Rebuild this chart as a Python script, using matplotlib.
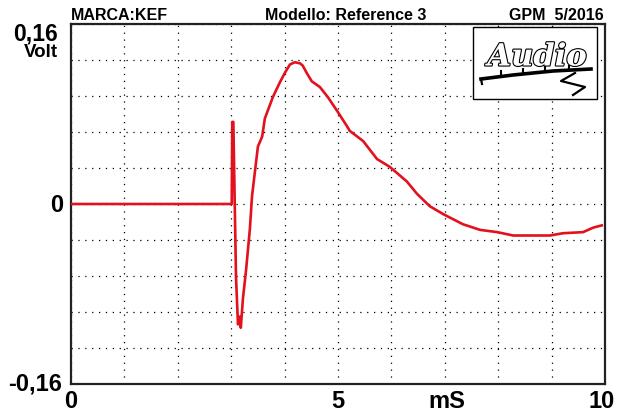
import matplotlib
matplotlib.use("Agg")
import matplotlib.pyplot as plt
from matplotlib.patches import Rectangle
import matplotlib.patheffects as pe
import numpy as np

# Impulse response of the loudspeaker (time in ms, amplitude in V)
time_ms = [0.0, 3.01, 3.02, 3.04, 3.09, 3.127, 3.165, 3.18, 3.22, 3.28, 3.35,
           3.39, 3.45, 3.50, 3.58, 3.63, 3.78, 3.91, 4.01, 4.10, 4.19, 4.29,
           4.34, 4.42, 4.51, 4.66, 4.81, 4.98, 5.17, 5.22, 5.47, 5.73, 5.97,
           6.29, 6.48, 6.72, 6.97, 7.34, 7.66, 7.98, 8.28, 8.97, 9.21, 9.59,
           9.78, 9.94]
volts = [0.0, 0.0, 0.073, 0.073, -0.065, -0.107, -0.100, -0.110, -0.084,
         -0.058, -0.022, 0.007, 0.031, 0.051, 0.060, 0.076, 0.095, 0.108,
         0.117, 0.124, 0.126, 0.125, 0.123, 0.116, 0.109, 0.104, 0.095, 0.083,
         0.069, 0.065, 0.056, 0.040, 0.033, 0.020, 0.009, -0.002, -0.009,
         -0.018, -0.023, -0.025, -0.028, -0.028, -0.026, -0.025, -0.021,
         -0.019]

x_ticks = [0, 5, 10]
x_tick_labels = ["0", "5", "10"]
y_tick_labels = ["-0,16", "0", "0,16"]

header_left = "MARCA:KEF"
header_mid = "Modello: Reference 3"
header_right = "GPM  5/2016"

FONT = ["Liberation Sans", "DejaVu Sans"]
RED = "#e3101e"

fig = plt.figure(figsize=(6.21, 4.14), dpi=100)
ax = fig.add_axes([71 / 621, 1 - 385 / 414, 534 / 621, 360 / 414])

ax.set_xlim(0, 10)
ax.set_ylim(-0.16, 0.16)

# dotted grid every 1 ms and every 0.032 V
ax.set_xticks(np.arange(0, 10.01, 1.0))
ax.set_yticks(np.linspace(-0.16, 0.16, 11))
ax.grid(True, color="black", linestyle=(0, (1, 4.5)), linewidth=0.9)
ax.tick_params(length=0, labelbottom=False, labelleft=False)
for sp in ax.spines.values():
    sp.set_linewidth(1.6)
    sp.set_color("#222222")

ax.plot(time_ms, volts, color=RED, linewidth=1.9, solid_joinstyle="round",
        zorder=3)

# axis labels drawn as texts
label_kw = dict(fontsize=17, fontweight="bold", family=FONT, clip_on=False)
x_pos = {0: 0.0, 5: 5.0, 10: 9.93}
for xv, lab in zip(x_ticks, x_tick_labels):
    ax.text(x_pos[xv], -0.1805, lab, ha="center", va="baseline", **label_kw)
ax.text(7.03, -0.1805, "mS", ha="center", va="baseline", **label_kw)

ax.text(-0.17, -0.1645, y_tick_labels[0], ha="right", va="baseline",
        **label_kw)
ax.text(-0.15, 0.0, y_tick_labels[1], ha="right", va="center", **label_kw)
ax.text(-0.245, 0.1460, y_tick_labels[2], ha="right", va="baseline",
        fontsize=16.5, fontweight="bold", family=FONT, clip_on=False)
ax.text(-0.245, 0.1318, "Volt", ha="right", va="baseline", fontsize=13.5,
        fontweight="bold", family=FONT, clip_on=False)

# header line
fig.text(71 / 621, 1 - 15 / 414, header_left, ha="left", va="center",
         fontsize=11.5, fontweight="bold", family=FONT)
fig.text(346 / 621, 1 - 15 / 414, header_mid, ha="center", va="center",
         fontsize=11.5, fontweight="bold", family=FONT)
fig.text(604 / 621, 1 - 15 / 414, header_right, ha="right", va="center",
         fontsize=11.5, fontweight="bold", family=FONT)

# magazine logo box in the upper right corner
lx0, ly0, lx1, ly1 = 473 / 621, 1 - 100 / 414, 597 / 621, 1 - 28 / 414
fig.patches.append(Rectangle((lx0, ly0), lx1 - lx0, ly1 - ly0,
                             transform=fig.transFigure, facecolor="white",
                             edgecolor="black", linewidth=1.0, zorder=5))
lax = fig.add_axes([lx0, ly0, lx1 - lx0, ly1 - ly0], zorder=6)
lax.set_xlim(0, 124)
lax.set_ylim(72, 0)
lax.axis("off")
lax.patch.set_alpha(0)
lax.text(64, 30, "Audio", ha="center", va="center", fontsize=22,
         fontstyle="italic", fontweight="bold", family="DejaVu Serif",
         color="white",
         path_effects=[pe.withStroke(linewidth=1.6, foreground="black")])
lax.plot([8, 40, 80, 118], [52, 48, 44, 42], color="black", linewidth=2.6)
lax.plot([8, 9], [52, 57], color="black", linewidth=1.6)
for tx, ty in [(28, 48), (50, 46), (72, 44), (96, 43)]:
    lax.plot([tx, tx], [ty - 4, ty], color="black", linewidth=1.5)
lax.plot([102, 88, 112, 100], [46, 54, 60, 68], color="black", linewidth=1.6)

fig.savefig("out.png", dpi=100)
